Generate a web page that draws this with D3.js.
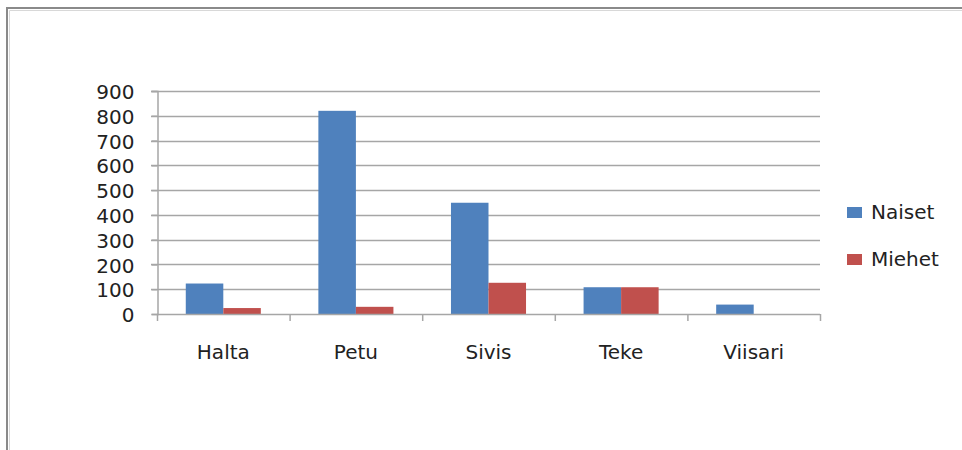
<!DOCTYPE html>
<html>
<head>
<meta charset="utf-8">
<script src="https://cdn.jsdelivr.net/npm/d3@7"></script>
<style>
  html, body { margin: 0; padding: 0; background: #fff; }
  svg { display: block; }
  text { font-family: "DejaVu Sans", sans-serif; fill: #222; }
</style>
</head>
<body>
<svg id="chart" width="962" height="450"></svg>
<script>
// Data
const categories = ["Halta", "Petu", "Sivis", "Teke", "Viisari"];
const seriesNames = ["Naiset", "Miehet"];
const naiset = [123, 820, 449, 108, 38];
const miehet = [24, 29, 126, 108, 0];
const yTicks = [0, 100, 200, 300, 400, 500, 600, 700, 800, 900];
const colors = ["#4F81BD", "#C0504D"];

const svg = d3.select("#chart");
const W = 962, H = 450;

// Frame lines (top and left)
svg.append("path")
  .attr("d", `M7,${H} V8 H${W}`)
  .attr("fill", "none")
  .attr("stroke", "#8a8a8a")
  .attr("stroke-width", 2);
svg.append("path")
  .attr("d", `M9.5,${H} V10.5 H${W}`)
  .attr("fill", "none")
  .attr("stroke", "#d8d8d8")
  .attr("stroke-width", 1);

const plot = { left: 157, right: 820, top: 91, bottom: 314 };

const x = d3.scaleBand()
  .domain(categories)
  .range([plot.left, plot.right])
  .paddingInner(0.434)
  .paddingOuter(0.217);

const x1 = d3.scaleBand()
  .domain(seriesNames)
  .range([0, x.bandwidth()]);

const y = d3.scaleLinear()
  .domain([0, 900])
  .range([plot.bottom, plot.top]);

// Horizontal gridlines
svg.append("g")
  .selectAll("line")
  .data(yTicks.filter(d => d > 0))
  .join("line")
  .attr("x1", plot.left - 6)
  .attr("x2", plot.right)
  .attr("y1", d => Math.round(y(d)) + 0.5)
  .attr("y2", d => Math.round(y(d)) + 0.5)
  .attr("stroke", "#a6a6a6")
  .attr("stroke-width", 1.5);

// Y axis
const yAxis = svg.append("g")
  .attr("transform", `translate(${plot.left + 0.5},0)`)
  .call(d3.axisLeft(y).tickValues(yTicks).tickSize(6).tickPadding(17));
yAxis.select(".domain").attr("stroke", "#a6a6a6").attr("stroke-width", 1.5);
yAxis.selectAll(".tick line").attr("stroke", "#a6a6a6").attr("stroke-width", 1.5);
yAxis.selectAll(".tick text")
  .attr("font-size", 20)
  .attr("font-family", "DejaVu Sans, sans-serif")
  .attr("fill", "#222")
  .attr("dy", "0.38em");

// Bars
const groups = svg.append("g")
  .selectAll("g")
  .data(categories.map((c, i) => ({ c, vals: [naiset[i], miehet[i]] })))
  .join("g")
  .attr("transform", d => `translate(${x(d.c)},0)`);

groups.selectAll("rect")
  .data(d => d.vals.map((v, j) => ({ v, s: seriesNames[j], j })))
  .join("rect")
  .attr("x", d => x1(d.s))
  .attr("width", x1.bandwidth())
  .attr("y", d => y(d.v))
  .attr("height", d => y(0) - y(d.v))
  .attr("fill", d => colors[d.j]);

// X axis
const xAxis = svg.append("g")
  .attr("transform", `translate(0,${plot.bottom + 0.5})`)
  .call(d3.axisBottom(x).tickSize(0).tickPadding(30));
xAxis.select(".domain").attr("stroke", "#a6a6a6").attr("stroke-width", 1.5)
  .attr("d", `M${plot.left},0H${plot.right}`);
xAxis.selectAll(".tick text")
  .attr("font-size", 20)
  .attr("font-family", "DejaVu Sans, sans-serif")
  .attr("fill", "#222");

// Category separator ticks below the baseline
const sepPositions = categories.map(c => x(c) - x.step() * x.paddingInner() / 2)
  .concat([plot.right]);
sepPositions[0] = plot.left;
svg.append("g")
  .selectAll("line")
  .data(sepPositions)
  .join("line")
  .attr("x1", d => d + 0.5)
  .attr("x2", d => d + 0.5)
  .attr("y1", plot.bottom)
  .attr("y2", plot.bottom + 7)
  .attr("stroke", "#a6a6a6")
  .attr("stroke-width", 1.5);

// Legend
const legend = svg.append("g")
  .attr("transform", "translate(847,0)")
  .selectAll("g")
  .data(seriesNames)
  .join("g")
  .attr("transform", (d, i) => `translate(0,${207 + i * 47})`);
legend.append("rect")
  .attr("width", 15)
  .attr("height", 11)
  .attr("fill", (d, i) => colors[i]);
legend.append("text")
  .attr("x", 24)
  .attr("y", 12)
  .attr("font-size", 20)
  .text(d => d);
</script>
</body>
</html>
